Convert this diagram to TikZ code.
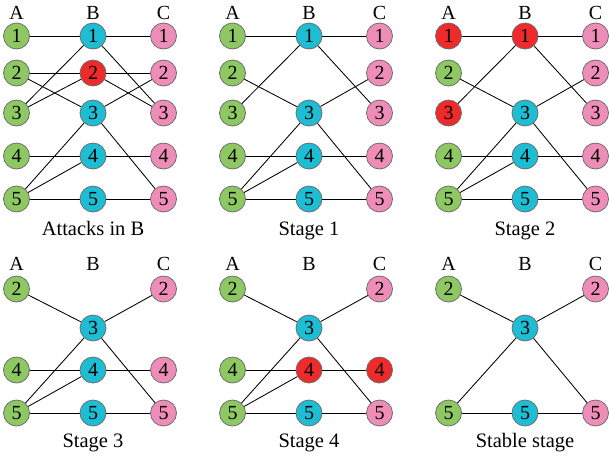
\documentclass[tikz,border=0pt]{standalone}
\usepackage{fontspec}
\setmainfont{Liberation Serif}
\definecolor{ringgray}{HTML}{6E6E6E}
\definecolor{agreen}{HTML}{8DC862}
\definecolor{bcyan}{HTML}{1DBED3}
\definecolor{cpink}{HTML}{EF8DB9}
\definecolor{hitred}{HTML}{EE2A2A}
\begin{document}
\begin{tikzpicture}[x=1pt,y=-1pt,
  vert/.style={circle, draw=ringgray, line width=0.8pt, minimum size=26pt,
    inner sep=0pt, font=\fontsize{20}{20}\selectfont},
  anode/.style={vert, fill=agreen},
  bnode/.style={vert, fill=bcyan},
  cnode/.style={vert, fill=cpink},
  hitnode/.style={vert, fill=hitred},
  link/.style={line width=0.85pt, black},
  colhead/.style={anchor=base, inner sep=0pt, font=\fontsize{20}{20}\selectfont},
  panelcap/.style={anchor=base, inner sep=0pt, font=\fontsize{20.5}{20.5}\selectfont}]
\useasboundingbox (0,0) rectangle (609,459);

% ---------- Panel 1: Attacks in B ----------
\foreach \r/\y in {1/36,2/73,3/113,4/156,5/199}{
  \node[anode] (p1a\r) at (16.5,\y) {\r};
  \node[cnode] (p1c\r) at (163.5,\y) {\r};
}
\node[bnode]   (p1b1) at (93,36)  {1};
\node[hitnode] (p1b2) at (93,73)  {2};
\node[bnode]   (p1b3) at (93,113) {3};
\node[bnode]   (p1b4) at (93,156) {4};
\node[bnode]   (p1b5) at (93,199) {5};
\node[colhead] (p1hA) at (16.5,19) {A};
\node[colhead] (p1hB) at (93,19)   {B};
\node[colhead] (p1hC) at (163.5,19) {C};
\node[panelcap] (p1cap) at (93,235) {Attacks in B};
\foreach \s/\t in {a1/b1,a2/b2,a2/b3,a3/b1,a3/b2,a4/b4,a5/b3,a5/b4,a5/b5,
                   b1/c1,b1/c3,b2/c2,b2/c3,b3/c2,b3/c5,b4/c4,b5/c5}
  \draw[link] (p1\s) -- (p1\t);

% ---------- Panel 2: Stage 1 ----------
\foreach \r/\y in {1/36,2/73,3/113,4/156,5/199}{
  \node[anode] (p2a\r) at (232.5,\y) {\r};
  \node[cnode] (p2c\r) at (379.5,\y) {\r};
}
\foreach \r/\y in {1/36,3/113,4/156,5/199}
  \node[bnode] (p2b\r) at (309,\y) {\r};
\node[colhead] (p2hA) at (232.5,19) {A};
\node[colhead] (p2hB) at (309,19)   {B};
\node[colhead] (p2hC) at (379.5,19) {C};
\node[panelcap] (p2cap) at (309,235) {Stage 1};
\foreach \s/\t in {a1/b1,a3/b1,a2/b3,a4/b4,a5/b3,a5/b4,a5/b5,
                   b1/c1,b1/c3,b3/c2,b3/c5,b4/c4,b5/c5}
  \draw[link] (p2\s) -- (p2\t);

% ---------- Panel 3: Stage 2 ----------
\foreach \r/\y in {1/36,2/73,3/113,4/156,5/199}
  \node[cnode] (p3c\r) at (595.5,\y) {\r};
\node[hitnode] (p3a1) at (448.5,36)  {1};
\node[anode]   (p3a2) at (448.5,73)  {2};
\node[hitnode] (p3a3) at (448.5,113) {3};
\node[anode]   (p3a4) at (448.5,156) {4};
\node[anode]   (p3a5) at (448.5,199) {5};
\node[hitnode] (p3b1) at (525,36)  {1};
\node[bnode]   (p3b3) at (525,113) {3};
\node[bnode]   (p3b4) at (525,156) {4};
\node[bnode]   (p3b5) at (525,199) {5};
\node[colhead] (p3hA) at (448.5,19) {A};
\node[colhead] (p3hB) at (525,19)   {B};
\node[colhead] (p3hC) at (595.5,19) {C};
\node[panelcap] (p3cap) at (525,235) {Stage 2};
\foreach \s/\t in {a1/b1,a3/b1,a2/b3,a4/b4,a5/b3,a5/b4,a5/b5,
                   b1/c1,b1/c3,b3/c2,b3/c5,b4/c4,b5/c5}
  \draw[link] (p3\s) -- (p3\t);

% ---------- Panel 4: Stage 3 ----------
\foreach \r/\y in {2/289,4/370,5/413}{
  \node[anode] (p4a\r) at (16.5,\y) {\r};
  \node[cnode] (p4c\r) at (163.5,\y) {\r};
}
\foreach \r/\y in {3/328,4/370,5/413}
  \node[bnode] (p4b\r) at (93,\y) {\r};
\node[colhead] (p4hA) at (16.5,270) {A};
\node[colhead] (p4hB) at (93,270)   {B};
\node[colhead] (p4hC) at (163.5,270) {C};
\node[panelcap] (p4cap) at (93,447) {Stage 3};
\foreach \s/\t in {a2/b3,a4/b4,a5/b3,a5/b4,a5/b5,b3/c2,b3/c5,b4/c4,b5/c5}
  \draw[link] (p4\s) -- (p4\t);

% ---------- Panel 5: Stage 4 ----------
\foreach \r/\y in {2/289,4/370,5/413}
  \node[anode] (p5a\r) at (232.5,\y) {\r};
\node[bnode]   (p5b3) at (309,328) {3};
\node[hitnode] (p5b4) at (309,370) {4};
\node[bnode]   (p5b5) at (309,413) {5};
\node[cnode]   (p5c2) at (379.5,289) {2};
\node[hitnode] (p5c4) at (379.5,370) {4};
\node[cnode]   (p5c5) at (379.5,413) {5};
\node[colhead] (p5hA) at (232.5,270) {A};
\node[colhead] (p5hB) at (309,270)   {B};
\node[colhead] (p5hC) at (379.5,270) {C};
\node[panelcap] (p5cap) at (309,447) {Stage 4};
\foreach \s/\t in {a2/b3,a4/b4,a5/b3,a5/b4,a5/b5,b3/c2,b3/c5,b4/c4,b5/c5}
  \draw[link] (p5\s) -- (p5\t);

% ---------- Panel 6: Stable stage ----------
\foreach \r/\y in {2/289,5/413}{
  \node[anode] (p6a\r) at (448.5,\y) {\r};
  \node[cnode] (p6c\r) at (595.5,\y) {\r};
}
\node[bnode] (p6b3) at (525,328) {3};
\node[bnode] (p6b5) at (525,413) {5};
\node[colhead] (p6hA) at (448.5,270) {A};
\node[colhead] (p6hB) at (525,270)   {B};
\node[colhead] (p6hC) at (595.5,270) {C};
\node[panelcap] (p6cap) at (525,447) {Stable stage};
\foreach \s/\t in {a2/b3,a5/b3,a5/b5,b3/c2,b3/c5,b5/c5}
  \draw[link] (p6\s) -- (p6\t);
\end{tikzpicture}
\end{document}
